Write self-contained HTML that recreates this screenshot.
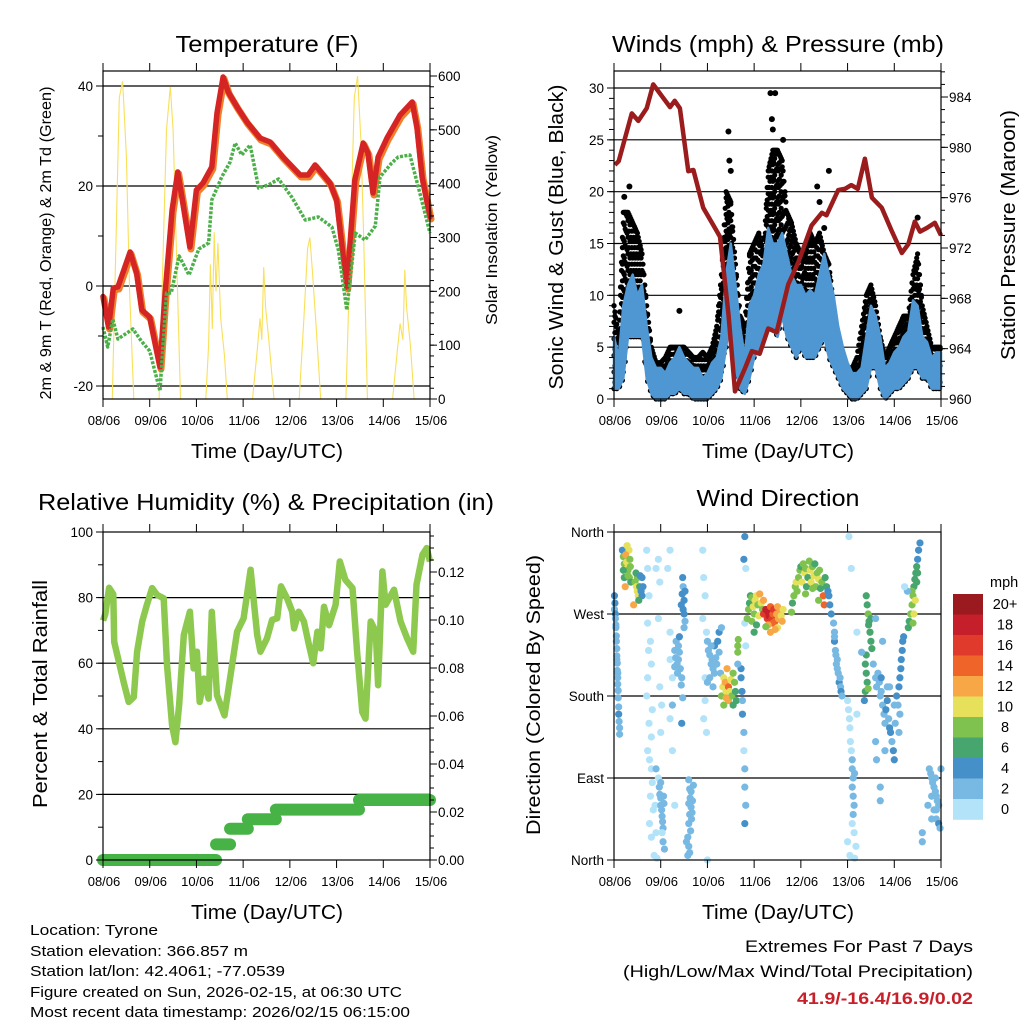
<!DOCTYPE html>
<html><head><meta charset="utf-8"><title>Tyrone station meteogram</title>
<style>
html,body{margin:0;padding:0;background:#fff;}
svg{display:block;font-family:"Liberation Sans",Arial,sans-serif;}
</style></head>
<body>
<svg id="chart" width="1024" height="1024" viewBox="0 0 1024 1024" xmlns="http://www.w3.org/2000/svg">
<rect x="0" y="0" width="1024" height="1024" fill="#fff"/>
<g id="layers"></g>
<text x="267" y="52" font-size="23" text-anchor="middle" textLength="183" lengthAdjust="spacingAndGlyphs">Temperature (F)</text>
<text x="778" y="52" font-size="23" text-anchor="middle" textLength="332" lengthAdjust="spacingAndGlyphs">Winds (mph) &amp; Pressure (mb)</text>
<text x="266" y="510" font-size="23" text-anchor="middle" textLength="456" lengthAdjust="spacingAndGlyphs">Relative Humidity (%) &amp; Precipitation (in)</text>
<text x="778" y="506" font-size="23" text-anchor="middle" textLength="163" lengthAdjust="spacingAndGlyphs">Wind Direction</text>
<text x="267" y="458" font-size="20" text-anchor="middle" textLength="152" lengthAdjust="spacingAndGlyphs">Time (Day/UTC)</text>
<text x="778" y="458" font-size="20" text-anchor="middle" textLength="152" lengthAdjust="spacingAndGlyphs">Time (Day/UTC)</text>
<text x="267" y="919" font-size="20" text-anchor="middle" textLength="152" lengthAdjust="spacingAndGlyphs">Time (Day/UTC)</text>
<text x="778" y="919" font-size="20" text-anchor="middle" textLength="152" lengthAdjust="spacingAndGlyphs">Time (Day/UTC)</text>
<text transform="translate(51,243) rotate(-90)" font-size="16" text-anchor="middle" textLength="313" lengthAdjust="spacingAndGlyphs">2m &amp; 9m T (Red, Orange) &amp; 2m Td (Green)</text>
<text transform="translate(497,230) rotate(-90)" font-size="16" text-anchor="middle" textLength="190" lengthAdjust="spacingAndGlyphs">Solar Insolation (Yellow)</text>
<text transform="translate(563,237) rotate(-90)" font-size="20" text-anchor="middle" textLength="305" lengthAdjust="spacingAndGlyphs">Sonic Wind &amp; Gust (Blue, Black)</text>
<text transform="translate(1015,235) rotate(-90)" font-size="20" text-anchor="middle" textLength="250" lengthAdjust="spacingAndGlyphs">Station Pressure (Maroon)</text>
<text transform="translate(47,694) rotate(-90)" font-size="20" text-anchor="middle" textLength="228" lengthAdjust="spacingAndGlyphs">Percent &amp; Total Rainfall</text>
<text transform="translate(540,695) rotate(-90)" font-size="19" text-anchor="middle" textLength="280" lengthAdjust="spacingAndGlyphs">Direction (Colored By Speed)</text>
<g font-size="15">
<text x="30" y="935" textLength="128" lengthAdjust="spacingAndGlyphs">Location: Tyrone</text>
<text x="30" y="956" textLength="218" lengthAdjust="spacingAndGlyphs">Station elevation: 366.857 m</text>
<text x="30" y="976" textLength="255" lengthAdjust="spacingAndGlyphs">Station lat/lon: 42.4061; -77.0539</text>
<text x="30" y="997" textLength="372" lengthAdjust="spacingAndGlyphs">Figure created on Sun, 2026-02-15, at 06:30 UTC</text>
<text x="30" y="1017" textLength="380" lengthAdjust="spacingAndGlyphs">Most recent data timestamp: 2026/02/15 06:15:00</text>
</g>
<text x="973" y="952" font-size="17" text-anchor="end" textLength="228" lengthAdjust="spacingAndGlyphs">Extremes For Past 7 Days</text>
<text x="973" y="977" font-size="17" text-anchor="end" textLength="350" lengthAdjust="spacingAndGlyphs">(High/Low/Max Wind/Total Precipitation)</text>
<text x="973" y="1004" font-size="17" font-weight="bold" fill="#c8202a" text-anchor="end" textLength="176" lengthAdjust="spacingAndGlyphs">41.9/-16.4/16.9/0.02</text>
</svg>
<script>
const dayLabels = ["08/06","09/06","10/06","11/06","12/06","13/06","14/06","15/06"];
const tempTicks = [-20,0,20,40];
const solarTicks = [0,100,200,300,400,500,600];
const windTicks = [0,5,10,15,20,25,30];
const pressTicks = [960,964,968,972,976,980,984];
const rhTicks = [0,20,40,60,80,100];
const rainTicks = [0.00,0.02,0.04,0.06,0.08,0.10,0.12];
const dirLabels = ["North","East","South","West","North"];
const dirTicks = [0,90,180,270,360];
const speedBinLabels = ["0","2","4","6","8","10","12","14","16","18","20+"];

const tDay = [0,0.12,0.22,0.32,0.58,0.72,0.83,1.0,1.22,1.33,1.48,1.6,1.71,1.86,2.0,2.14,2.33,2.44,2.57,2.68,2.87,3.08,3.36,3.58,3.85,4.22,4.39,4.54,4.86,5.0,5.22,5.39,5.57,5.67,5.78,5.89,6.08,6.36,6.62,6.72,6.83,7.0];
const tVal = [-2.1,-8.2,-0.4,-0.2,6.8,2.6,-4.8,-6.2,-16.2,-1.4,15.2,22.8,16.6,7.8,19.2,20.6,23.8,34.6,41.8,38.8,35.8,32.8,29.6,28.8,25.8,22.2,22.2,24.2,20.6,17.2,-0.2,21.2,28.6,26.6,18.6,25.8,29.6,34.2,36.8,31.8,21.8,13.8];
const tdDay = [0,0.1,0.21,0.32,0.64,0.82,1.0,1.22,1.36,1.46,1.63,1.84,2.05,2.26,2.33,2.54,2.72,2.83,2.97,3.15,3.33,3.54,3.76,4.04,4.33,4.61,4.9,5.04,5.22,5.4,5.61,5.83,5.93,6.18,6.32,6.57,6.75,7.0];
const tdVal = [-8.2,-12.2,-6.6,-10.6,-8.6,-11,-13,-21,-1.4,-1.4,6,2.2,7.4,8.6,17.2,21.8,24.8,28.6,26.2,28.2,19.6,20.2,21.4,17.8,13.2,13.8,11.8,7.2,-4.8,10.6,9.2,12,21.8,24.6,25.8,26.2,19.8,10.6];
const solarDay = [0,0.2,0.28,0.35,0.42,0.45,0.5,0.57,0.66,1.2,1.28,1.36,1.44,1.5,1.58,1.66,2.2,2.26,2.3,2.34,2.38,2.42,2.46,2.52,2.6,2.66,3.2,3.3,3.36,3.4,3.44,3.48,3.55,3.66,4.2,4.3,4.38,4.43,4.48,4.55,4.66,5.2,5.3,5.38,5.45,5.52,5.58,5.66,6.2,6.3,6.36,6.42,6.46,6.5,6.58,6.66,7];
const solarVal = [0,0,300,560,590,540,450,200,0,0,250,500,580,500,250,0,0,100,250,130,310,200,290,150,80,0,0,90,150,110,245,170,110,0,0,150,280,300,240,150,0,0,300,560,600,480,300,0,0,90,140,110,240,170,100,0,0];

const windLow  = [1,1,2,6,6,6,6,2,0.5,0,0,0,0.5,0.5,1,0.5,0.5,0,0,0,0,0.5,1,2,5,8,3,1,0.5,2,4,5,6,7,7,6,8,6,5,4,5,4,4,4,5,6,4,3,2,1,0.5,0,0,0.5,1,3,3,1,0,0.5,1,1,1.5,2,3,3,2,2,1,1,1];
const windHigh = [6,4,9,11,12,10,11,7,4,3,3,2.5,3.5,4,5,4,3.5,3,3,2,2.5,3.5,4,6,12,15,11,7,4,9,10,12,13,16.5,15,15,16,14,12,11,11,10,10.5,10,12,14,12,10,7,5,3.5,2.5,2.5,3,6,9,8,6,3,3.5,4.5,5,6,6.5,9.5,9,6,5.5,4,4.5,4.5];
const gustHigh = [9,6,18,18,17,16,14,9,5,3.5,3.5,4,5,5,5,5,4.5,4,4,4.5,4,5,7,12,20,19,13,8,7,14,15,16,14,22,24,24,23,18,17,15,14,14,16,15,16,14,13,9,6,4,3,3,4,7,10,11,9,6,4,5,6,7,8,8,12,14,9,7,5,5,5];
const gustOutDay = [0.33,2.45,2.47,3.35,3.45,3.38,3.4,3.62,4.5,4.35,4.6,6.5,1.4,4.4,0.22,2.5];
const gustOutVal = [20.5,25.8,23,29.5,29.5,27,26,25,16.5,20.5,22,17.5,8.5,19,19.5,22];
const pDay = [0.02,0.1,0.38,0.52,0.7,0.84,1.06,1.2,1.3,1.41,1.59,1.7,1.91,2.16,2.27,2.45,2.59,2.81,2.95,3.12,3.3,3.48,3.73,3.95,4.23,4.45,4.55,4.8,4.94,5.08,5.22,5.37,5.52,5.73,5.95,6.16,6.3,6.44,6.55,6.7,6.87,7.0];
const pVal = [978.6,978.9,982.7,982.1,983.1,985.0,983.9,983.2,983.7,983.1,978.1,978.2,975.2,973.6,972.9,966.7,960.6,962.5,963.8,963.6,965.6,965.3,969.1,970.9,973.8,974.8,974.6,976.6,976.7,977.0,976.7,979.1,976.0,975.2,973.3,971.6,972.3,974.1,973.3,973.6,974.0,973.0];

const rhDay = [0,0.05,0.13,0.22,0.24,0.34,0.44,0.55,0.66,0.73,0.84,0.94,1.05,1.16,1.3,1.37,1.48,1.55,1.63,1.73,1.86,1.94,2.01,2.07,2.16,2.26,2.33,2.44,2.6,2.73,2.87,3.01,3.16,3.3,3.37,3.51,3.62,3.73,3.81,3.94,4.05,4.09,4.19,4.3,4.41,4.5,4.59,4.66,4.73,4.84,4.98,5.07,5.19,5.34,5.44,5.55,5.62,5.73,5.84,5.89,5.98,6.05,6.23,6.37,6.51,6.64,6.71,6.84,6.93,7.0];
const rhVal = [73,75,83,81,66.5,60.4,54.3,48.2,49.7,63.5,72.7,77.8,82.9,80.8,79.8,59.5,41,35.9,47.1,68.6,75.7,58.4,63.5,48.2,55.3,49.2,75.7,50.2,44.1,56.3,69.6,73.7,88.5,68.6,63.5,67.6,73.2,73.7,83.4,79.8,75.7,70.6,75.7,72.7,65.5,60,69.6,64.5,77.2,71.6,77.8,91,85.4,82.9,63.5,45.1,43.1,72.7,69.6,53.3,88,77.8,82.4,72.7,67.6,63.5,83.9,93.1,95.1,91];
const rainStart = [0,2.42,2.72,3.1,3.7,5.48];
const rainEnd   = [2.42,2.72,3.1,3.7,5.48,7.0];
const rainVal   = [0,0.0065,0.013,0.017,0.021,0.025];

const speedColors = ["#b3e3f9","#78b9e3","#4590c8","#47a56e","#7fc24f","#e6e05a","#f8a747","#ef6429","#e03a2c","#c41f2a","#9a1a1f"];
const wdObs = [
[0.01,290,4],[0.02,282,4],[0.01,275,3],[0.03,270,4],
[0.03,265,2],[0.04,255,2],[0.05,240,2],[0.06,232,3],[0.06,224,2],[0.07,216,2],[0.07,208,3],[0.08,200,2],[0.08,193,2],[0.09,186,3],[0.09,178,2],[0.1,168,3],[0.1,160,4],[0.11,152,3],[0.12,145,3],[0.12,138,3],[0.05,246,2],[0.04,258,2],[0.08,205,2],[0.06,220,2],
[0.18,340,4],[0.2,333,8],[0.22,325,8],[0.24,318,12],[0.26,312,10],[0.28,320,10],[0.3,330,8],[0.32,340,10],[0.25,335,12],[0.27,327,10],[0.3,318,8],[0.33,310,8],[0.22,310,6],[0.35,322,8],[0.28,345,10],[0.36,305,7],[0.24,300,12],[0.3,312,9],[0.34,330,8],[0.2,318,7],
[0.45,305,8],[0.48,300,10],[0.5,295,10],[0.52,290,10],[0.5,310,8],[0.55,300,6],[0.58,295,4],[0.6,290,4],[0.62,300,4],[0.47,315,6],[0.53,285,7],[0.56,312,5],[0.42,280,12],[0.6,310,4],
[0.7,340,1],[0.72,320,0],[0.75,290,0],[0.72,260,0],[0.78,240,1],[0.74,230,0],[0.8,215,0],[0.72,200,0],[0.7,180,0],[0.82,165,0],[0.75,150,0],[0.8,135,1],[0.72,120,1],[0.76,110,0],[0.8,100,0],[0.82,85,0],[0.78,70,0],[0.84,55,1],[0.76,40,0],[0.8,25,1],[0.86,5,0],[0.92,2,0],[0.9,30,0],[0.88,60,0],[0.9,100,2],[0.95,330,0],[0.95,265,0],[0.98,305,1],[0.9,320,1],[0.98,190,1],[1.02,170,1],[1.0,140,1],
[0.95,90,1],[0.97,80,2],[0.98,72,2],[1.0,68,2],[1.0,60,3],[1.02,55,2],[1.03,48,3],[1.04,42,2],[1.05,35,2],[1.06,70,2],[1.05,20,3],[1.08,12,2],[1.0,85,2],[1.03,30,1],[1.07,62,3],
[1.2,340,1],[1.2,250,0],[1.25,200,1],[1.15,320,0],[1.2,155,0],[1.25,120,1],[1.3,60,1],[1.25,170,2],[1.2,220,1],
[1.3,230,3],[1.32,222,2],[1.35,215,3],[1.38,220,2],[1.4,228,3],[1.42,210,2],[1.36,205,2],[1.33,240,3],[1.45,200,3],[1.4,245,4],[1.38,235,2],[1.44,192,2],[1.3,212,2],[1.47,178,3],[1.45,150,4],
[1.47,310,4],[1.48,300,3],[1.46,292,4],[1.5,285,4],[1.48,275,4],[1.5,270,4],[1.52,262,3],[1.5,255,3],[1.44,280,4],[1.52,295,4],
[1.6,88,2],[1.62,78,3],[1.65,75,2],[1.63,68,2],[1.6,62,2],[1.65,58,3],[1.62,50,2],[1.66,45,2],[1.6,40,2],[1.64,32,2],[1.58,25,3],[1.6,15,2],[1.62,8,2],[1.7,82,2],[1.68,65,2],[1.55,20,3],[1.58,5,2],[1.67,52,3],
[1.9,340,0],[1.92,310,0],[1.95,290,0],[1.9,265,1],[1.95,175,0],[1.92,155,0],[1.98,140,1],[2.0,0,0],[1.95,200,1],
[2.0,240,2],[2.02,230,2],[2.05,225,2],[2.08,215,2],[2.1,220,2],[2.12,210,3],[2.15,205,2],[2.05,200,2],[2.18,222,2],[2.2,215,3],[2.15,235,4],[2.22,240,4],[2.25,250,4],[2.25,228,3],[2.0,195,2],[2.08,235,3],[2.28,205,2],[2.12,190,2],[2.3,255,3],[1.98,250,1],
[2.3,180,8],[2.33,190,10],[2.35,200,10],[2.38,195,12],[2.4,185,10],[2.42,210,12],[2.45,190,14],[2.45,175,12],[2.48,185,10],[2.5,198,10],[2.52,180,8],[2.55,170,7],[2.58,195,8],[2.6,185,7],[2.62,175,7],[2.35,170,8],[2.55,205,8],[2.4,178,12],
[2.65,235,8],[2.65,228,8],[2.66,242,8],
[2.72,210,4],[2.72,200,4],[2.74,185,4],[2.75,175,3],[2.75,160,4],[2.78,140,2],[2.78,120,1],[2.8,100,2],[2.8,80,2],[2.82,60,3],[2.8,40,4],[2.78,330,4],[2.8,355,4],[2.82,320,1],[2.8,260,1],[2.82,235,1],[2.65,215,2],
[2.85,265,8],[2.88,275,8],[2.9,282,6],[2.92,290,6],[2.95,288,8],[2.98,278,10],[3.0,270,8],[3.02,285,10],[3.05,290,10],[3.08,280,8],[3.1,268,10],[3.12,292,12],[3.15,282,10],[3.18,275,8],[2.95,262,8],[3.05,258,6],[3.0,250,6],
[3.2,270,16],[3.25,275,18],[3.28,265,16],[3.3,272,18],[3.32,268,18],[3.35,278,14],[3.38,265,16],[3.4,270,14],[3.42,275,16],[3.45,262,14],[3.48,270,12],[3.5,278,12],[3.52,265,12],[3.55,272,12],[3.58,268,10],[3.6,262,12],[3.4,260,14],[3.3,258,12],[3.35,250,12],[3.2,285,12],[3.5,255,10],[3.62,275,10],[3.25,256,8],[3.45,253,12],
[3.8,272,8],[3.82,282,6],[3.85,290,8],[3.88,300,8],[3.9,305,10],[3.92,295,8],[3.95,310,8],[3.98,318,8],[4.0,322,6],[4.02,305,10],[4.05,325,8],[4.08,315,10],[4.1,320,8],[4.12,300,6],[4.15,310,6],[4.18,328,8],[4.2,318,10],[4.22,305,10],[4.25,322,8],[4.28,312,10],[4.3,325,6],[4.32,300,8],[4.35,315,8],[4.38,308,10],[4.4,318,8],[4.42,298,6],[4.45,305,8],[4.48,290,14],[4.5,280,14],[4.52,310,6],[4.55,300,6],[4.58,295,4],[4.6,290,4],[4.62,280,4],[4.65,270,4],[4.1,292,8],[4.25,298,8],[4.38,285,8],
[4.7,260,3],[4.72,250,3],[4.72,240,4],[4.74,230,3],[4.75,225,3],[4.76,215,3],[4.78,210,3],[4.8,205,3],[4.82,195,4],[4.85,190,3],[4.86,185,4],[4.88,180,3],[4.72,245,3],[4.78,220,2],[4.84,200,3],
[5.0,175,1],[5.02,165,0],[5.04,155,1],[5.05,145,1],[5.06,130,1],[5.08,120,1],[5.1,110,2],[5.1,100,2],[5.12,90,2],[5.1,80,2],[5.12,70,2],[5.14,60,2],[5.12,50,2],[5.1,40,1],[5.14,30,1],[5.0,20,0],[5.05,5,0],[5.15,2,0],[5.2,160,0],[5.2,250,0],[5.03,355,0],[5.08,320,1],[5.15,95,2],[5.18,15,1],
[5.4,290,6],[5.42,280,7],[5.44,270,8],[5.46,262,7],[5.48,250,6],[5.5,240,6],[5.52,232,6],[5.4,225,6],[5.38,215,6],[5.4,205,6],[5.42,195,6],[5.38,185,6],[5.44,188,8],[5.36,175,4],[5.3,228,3],[5.45,258,6],[5.5,265,6],
[5.6,265,3],[5.55,215,3],[5.6,200,2],[5.62,190,3],[5.65,205,2],[5.68,195,3],[5.7,180,3],[5.72,185,2],[5.75,170,3],[5.78,160,2],[5.8,150,3],[5.82,165,4],[5.85,175,4],[5.88,155,3],[5.9,145,4],[5.92,140,4],[5.95,130,3],[5.98,120,4],[6.0,110,4],[5.85,190,2],[5.72,200,4],[5.6,130,2],[5.62,110,2],[5.75,240,3],[5.8,120,2],[5.9,190,2],[6.0,170,3],[5.7,80,2],[5.7,65,2],
[6.1,190,4],[6.12,200,4],[6.14,210,4],[6.15,220,4],[6.17,230,4],[6.18,240,4],[6.2,245,4],[6.05,180,4],[6.08,170,3],[6.12,160,2],[6.02,150,3],[6.1,140,3],
[6.3,255,6],[6.32,262,6],[6.35,270,8],[6.38,280,8],[6.4,290,8],[6.42,300,6],[6.44,308,6],[6.46,315,6],[6.48,322,6],[6.5,330,4],[6.52,340,4],[6.55,348,4],[6.45,285,10],[6.42,270,10],[6.38,295,8],[6.48,305,6],[6.4,260,8],[6.5,315,6],[6.28,295,2],[6.22,300,1],
[6.75,100,2],[6.78,95,2],[6.8,90,2],[6.82,85,3],[6.85,80,2],[6.88,75,3],[6.9,70,2],[6.92,65,3],[6.95,60,2],[6.85,55,2],[6.9,45,3],[6.95,40,4],[6.98,35,3],[6.8,70,2],[6.72,60,2],[6.8,45,2],[6.88,90,2],[6.6,30,2],[6.6,20,2],[7.0,100,3],[6.9,55,2]
];

const NS = "http://www.w3.org/2000/svg";
const root = document.getElementById("layers");
function mk(tag, attrs, parent){
  const e = document.createElementNS(NS, tag);
  for (const k in attrs) e.setAttribute(k, attrs[k]);
  (parent||root).appendChild(e);
  return e;
}
function linScale(d0,d1,r0,r1){ return v => r0 + (v-d0)/(d1-d0)*(r1-r0); }
function pathFrom(xs, ys, fx, fy){
  let s = "";
  for (let i=0;i<xs.length;i++) s += (i?"L":"M") + fx(xs[i]).toFixed(1) + "," + fy(ys[i]).toFixed(1);
  return s;
}
function makePanel(name, x0, x1, y0, y1){
  const g = mk("g", {});
  
  
  return {g, x0, x1, y0, y1, xs: linScale(0,7,x0,x1)};
}
function drawFrame(p, gridYs){
  gridYs.forEach(y => {
    const l = mk("line", {x1:p.x0, x2:p.x1, y1:y, y2:y, stroke:"#000", "stroke-width":1.2}, p.g);
    
    
  });
}
function drawBox(p, labelY){
  const r = mk("rect", {x:p.x0, y:p.y0, width:p.x1-p.x0, height:p.y1-p.y0, fill:"none", stroke:"#000", "stroke-width":1.2}, p.g);
  
  
  for (let i=0;i<dayLabels.length;i++){
    const x = p.xs(i);
    mk("line", {x1:x, x2:x, y1:p.y1, y2:p.y1+8, stroke:"#000", "stroke-width":1}, p.g);
    mk("line", {x1:x, x2:x, y1:p.y0, y2:p.y0-8, stroke:"#000", "stroke-width":1}, p.g);
    const t = mk("text", {x:x+1, y:labelY, "font-size":13, "text-anchor":"middle"}, p.g);
    
    
    t.textContent = dayLabels[i];
  }
}
function leftTicks(p, ticks, fy, fmt, minorStep, lo, hi){
  if (minorStep){
    for (let v=lo; v<=hi+1e-9; v+=minorStep){
      const y = fy(v); if (y < p.y0-0.5 || y > p.y1+0.5) continue;
      mk("line", {x1:p.x0, x2:p.x0-5, y1:y, y2:y, stroke:"#000", "stroke-width":1}, p.g);
    }
  }
  ticks.forEach((v,i) => {
    const y = fy(v);
    mk("line", {x1:p.x0, x2:p.x0-7, y1:y, y2:y, stroke:"#000", "stroke-width":1}, p.g);
    const t = mk("text", {x:p.x0-10, y:y+5, "font-size":13.5, "text-anchor":"end"}, p.g);
    
    
    t.textContent = fmt(v,i);
  });
}
function rightTicks(p, ticks, fy, fmt, minorStep, lo, hi){
  for (let v=lo; v<=hi+1e-9; v+=minorStep){
    const y = fy(v); if (y < p.y0-0.5 || y > p.y1+0.5) continue;
    mk("line", {x1:p.x1, x2:p.x1+4, y1:y, y2:y, stroke:"#000", "stroke-width":1}, p.g);
  }
  ticks.forEach(v => {
    const y = fy(v);
    mk("line", {x1:p.x1, x2:p.x1+7, y1:y, y2:y, stroke:"#000", "stroke-width":1}, p.g);
    const t = mk("text", {x:p.x1+8, y:y+5, "font-size":13.5, "text-anchor":"start"}, p.g);
    
    
    t.textContent = fmt(v);
  });
}

// Panel 1
const p1 = makePanel("temperature-panel", 103, 430, 71, 399);
const yT = linScale(0, 40, 286, 86);
const ySol = linScale(0, 600, 399, 76);
drawFrame(p1, tempTicks.map(yT));
const solar = mk("path", {d: pathFrom(solarDay, solarVal, p1.xs, ySol), fill:"none", stroke:"#f9e05a", "stroke-width":1.1}, p1.g);


const t9 = mk("path", {d: pathFrom(tDay, tVal, p1.xs, yT), fill:"none", stroke:"#f07f2a", "stroke-width":7, "stroke-linejoin":"round", "stroke-linecap":"round", transform:"translate(1,2)"}, p1.g);


const t2 = mk("path", {d: pathFrom(tDay, tVal, p1.xs, yT), fill:"none", stroke:"#d42424", "stroke-width":5.5, "stroke-linejoin":"round", "stroke-linecap":"round"}, p1.g);


const td = mk("path", {d: pathFrom(tdDay, tdVal, p1.xs, yT), fill:"none", stroke:"#4cb04a", "stroke-width":3.5, "stroke-dasharray":"3 1.5", "stroke-linejoin":"round"}, p1.g);


drawBox(p1, 425);
leftTicks(p1, tempTicks, yT, v => String(v), 10, -20, 40);
rightTicks(p1, solarTicks, ySol, v => String(v), 20, 0, 600);

// Panel 2
const p2 = makePanel("winds-panel", 614, 941, 71, 399);
const yW = linScale(0, 30, 399, 88);
const yP = linScale(960, 984, 399, 97);
drawFrame(p2, windTicks.slice(1).map(yW));
let wpath = "";
for (let i=0;i<windHigh.length;i++) wpath += (i?"L":"M") + p2.xs(i*0.1).toFixed(1) + "," + yW(windHigh[i]).toFixed(1);
for (let i=windLow.length-1;i>=0;i--) wpath += "L" + p2.xs(i*0.1).toFixed(1) + "," + yW(windLow[i]).toFixed(1);
// gust dots: columns between sonic wind and gust maximum
const gustG = mk("g", {}, p2.g);


for (let i=0;i<gustHigh.length-1;i++){
  for (let j=0;j<5;j++){
    const f = j/5;
    const d = (i+f)*0.1;
    const top = gustHigh[i]*(1-f) + gustHigh[i+1]*f;
    const bot = windLow[i]*(1-f) + windLow[i+1]*f;
    const off = ((i*5+j)%3)*0.6;
    for (let v = bot + off; v <= top; v += 1.6){
      const c = mk("circle", {cx:p2.xs(d).toFixed(1), cy:yW(v).toFixed(1), r:2.6, fill:"#000"}, gustG);
      
      
    }
    const c2 = mk("circle", {cx:p2.xs(d).toFixed(1), cy:yW(top).toFixed(1), r:2.6, fill:"#000"}, gustG);
    
    
  }
}
for (let i=0;i<gustOutDay.length;i++){
  const c = mk("circle", {cx:p2.xs(gustOutDay[i]), cy:yW(gustOutVal[i]), r:3, fill:"#000"}, p2.g);
  
  
}
const wind = mk("path", {d: wpath+"Z", fill:"#4f97d2", stroke:"#4f97d2", "stroke-width":2.5, "stroke-linejoin":"round"}, p2.g);


const pres = mk("path", {d: pathFrom(pDay, pVal, p2.xs, yP), fill:"none", stroke:"#9b1c1c", "stroke-width":4.5, "stroke-linejoin":"round"}, p2.g);


drawBox(p2, 425);
leftTicks(p2, windTicks, yW, v => String(v), 1, 0, 30);
rightTicks(p2, pressTicks, yP, v => String(v), 1, 960, 986);

// Panel 3
const p3 = makePanel("humidity-panel", 103, 430, 532, 860);
const yRH = linScale(0, 100, 860, 532);
const yPr = linScale(0, 0.12, 860, 572);
drawFrame(p3, [20,40,60,80].map(yRH));
const rh = mk("path", {d: pathFrom(rhDay, rhVal, p3.xs, yRH), fill:"none", stroke:"#8dc94e", "stroke-width":6.5, "stroke-linejoin":"round"}, p3.g);


for (let i=0;i<rainVal.length;i++){
  const l = mk("line", {x1:p3.xs(rainStart[i]), x2:p3.xs(rainEnd[i]), y1:yPr(rainVal[i]), y2:yPr(rainVal[i]), stroke:"#47b347", "stroke-width":12, "stroke-linecap":"round"}, p3.g);
  
  
}
drawBox(p3, 886);
leftTicks(p3, rhTicks, yRH, v => String(v), 10, 0, 100);
rightTicks(p3, rainTicks, yPr, v => v.toFixed(2), 0.005, 0, 0.135);

// Panel 4
const p4 = makePanel("wind-direction-panel", 614, 941, 532, 860);
const yD = linScale(0, 360, 860, 532);
drawFrame(p4, [90,180,270].map(yD));
wdObs.forEach(o => {
  const bin = Math.min(10, Math.floor(o[2]/2));
  const c = mk("circle", {cx:p4.xs(o[0]), cy:yD(o[1]), r:3.6, fill:speedColors[bin]}, p4.g);
  
  
});
drawBox(p4, 886);
leftTicks(p4, dirTicks, yD, (v,i) => dirLabels[i], 0, 0, 0);
const cb = mk("g", {});


const cbTop = 594, cbH = 20.5;
for (let i=0;i<speedColors.length;i++){
  const idx = speedColors.length-1-i;
  const r = mk("rect", {x:953, y:cbTop+i*cbH, width:30, height:cbH+0.3, fill:speedColors[idx]}, cb);
  
  
  const t = mk("text", {x:1005, y:cbTop+i*cbH+15, "font-size":14.5, "text-anchor":"middle"}, cb);
  
  
  t.textContent = speedBinLabels[idx];
}
const mph = mk("text", {x:990, y:587, "font-size":14.5}, cb);


mph.textContent = "mph";
</script>
</body></html>
